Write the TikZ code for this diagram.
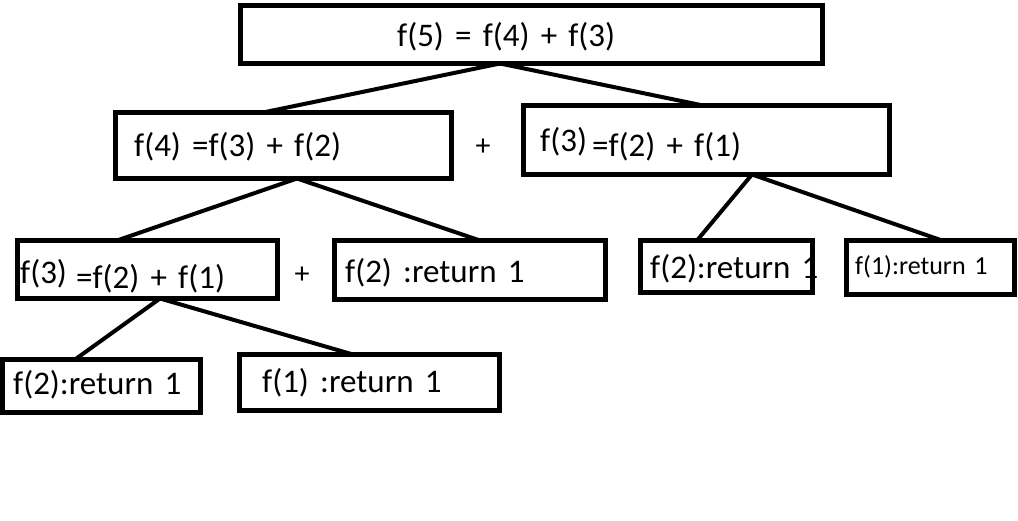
\documentclass[tikz,border=0pt]{standalone}
\usepackage{fontspec}
\setmainfont[WordSpace=1.5]{Carlito}
\begin{document}
\begin{tikzpicture}[x=1pt,y=-1pt,
  box/.style={draw=black,line width=4.6pt,rectangle,inner sep=0pt,outer sep=0pt},
  conn/.style={line width=4pt},
  txt/.style={anchor=base west,inner sep=0pt,font=\fontsize{33}{33}\selectfont},
  smalltxt/.style={anchor=base west,inner sep=0pt,font=\fontsize{26}{26}\selectfont},
  plus/.style={inner sep=0pt,font=\fontsize{30}{30}\selectfont}]
\useasboundingbox (0,0) rectangle (1018,521);
% boxes
\node[box,minimum width=582pt,minimum height=58pt] (A) at (531.5,34.5) {};
\node[box,minimum width=336pt,minimum height=66pt] (B) at (283.5,145.5) {};
\node[box,minimum width=366pt,minimum height=69pt] (C) at (706.5,140) {};
\node[box,minimum width=260pt,minimum height=58pt] (D) at (147.5,269.5) {};
\node[box,minimum width=271pt,minimum height=59pt] (E) at (470,270) {};
\node[box,minimum width=172pt,minimum height=52pt] (F) at (726.5,266.5) {};
\node[box,minimum width=168pt,minimum height=54pt] (G) at (930.5,267.5) {};
\node[box,minimum width=198pt,minimum height=53pt] (H) at (101.5,386) {};
\node[box,minimum width=260pt,minimum height=56pt] (I) at (369.5,382.5) {};
% texts
\node[txt] (tA) at (397,47) {f(5) = f(4) + f(3)};
\node[txt] (tB) at (134,157) {f(4) =f(3) + f(2)};
\node[txt] (tC1) at (540,152) {f(3)};
\node[txt] (tC2) at (592,157) {=f(2) + f(1)};
\node[txt] (tD1) at (20,284) {f(3)};
\node[txt] (tD2) at (76,289) {=f(2) + f(1)};
\node[txt] (tE) at (345,283) {f(2) :return 1};
\node[txt] (tF) at (650,279) {f(2):return 1};
\node[smalltxt] (tG) at (855,275) {f(1):return 1};
\node[txt] (tH) at (13,395) {f(2):return 1};
\node[txt] (tI) at (262,392) {f(1) :return 1};
\node[plus] (p1) at (483,147) {+};
\node[plus] (p2) at (302,275) {+};
% connectors
\draw[conn] ([xshift=-31.5pt]A.south) -- ([xshift=-20.5pt]B.north);
\draw[conn] ([xshift=-31.5pt]A.south) -- ([xshift=-3.5pt]C.north);
\draw[conn] ([xshift=13.5pt]B.south) -- ([xshift=-30.5pt]D.north);
\draw[conn] ([xshift=13.5pt]B.south) -- ([xshift=10pt]E.north);
\draw[conn] ([xshift=45.5pt]C.south) -- ([xshift=-29.5pt]F.north);
\draw[conn] ([xshift=45.5pt]C.south) -- ([xshift=11.5pt]G.north);
\draw[conn] ([xshift=12.5pt]D.south) -- ([xshift=-26.5pt]H.north);
\draw[conn] ([xshift=12.5pt]D.south) -- ([xshift=-16.5pt]I.north);
\end{tikzpicture}
\end{document}
